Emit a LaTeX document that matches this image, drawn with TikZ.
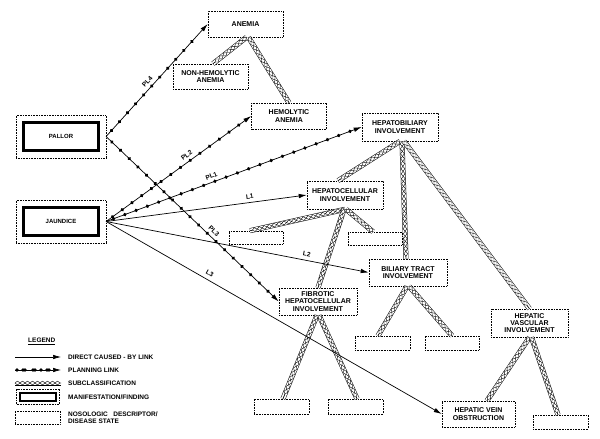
\documentclass[tikz,border=0pt]{standalone}
\usepackage{fontspec}
\setmainfont{Liberation Sans}
\usetikzlibrary{arrows.meta,decorations.markings,decorations.pathmorphing,fit}
\newcommand\subcl[2]{\draw[subouter] #1 -- #2; \draw[subzig] #1 -- #2; \draw[subzigb] #1 -- #2;}
\begin{document}
\begin{tikzpicture}[x=1pt,y=-1pt,
  every node/.style={font=\fontsize{7}{7.4}\selectfont\bfseries, align=center},
  nbox/.style={draw, densely dotted, line width=0.6pt, minimum width=76pt, minimum height=26pt, inner sep=1pt},
  ebox/.style={nbox, minimum width=55pt, minimum height=14pt},
  mbox/.style={draw, line width=2.6pt, minimum width=75pt, minimum height=28pt, inner sep=1pt, font=\fontsize{6}{7}\selectfont\bfseries},
  mouter/.style={draw, densely dotted, line width=0.6pt, inner sep=6pt},
  direct/.style={line width=0.7pt, -{Latex[length=8pt,width=4.5pt]}},
  plan/.style={direct, postaction={decorate}, decoration={markings, mark=between positions 8pt and -12pt step 12pt with {\fill (0,0) circle (1.9pt);}}},
  lbl/.style={font=\fontsize{6.5}{7}\selectfont\bfseries, sloped, above, inner sep=3.5pt},
  subouter/.style={line width=0.5pt, double=white, double distance=4pt},
  subzig/.style={line width=0.4pt, decorate, decoration={zigzag, amplitude=1.9pt, segment length=10pt}},
  subzigb/.style={line width=0.4pt, decorate, decoration={zigzag, amplitude=-1.9pt, segment length=10pt}},
  legtext/.style={anchor=west, font=\fontsize{6.5}{7}\selectfont\bfseries, align=left, inner sep=0pt},
]
\useasboundingbox (0,0) rectangle (600,439);

% manifestation nodes
\node[mbox] (pallor) at (61,136.5) {PALLOR};
\node[mouter, fit=(pallor)] (pallorO) {};
\node[mbox] (jaundice) at (61,221.5) {JAUNDICE};
\node[mouter, fit=(jaundice)] (jaundiceO) {};

% nosologic nodes
\node[nbox, minimum width=75pt] (anemia) at (245.5,24) {ANEMIA};
\node[nbox, minimum width=75pt, minimum height=25pt] (nonhem) at (210.5,76.5) {NON-HEMOLYTIC\\ANEMIA};
\node[nbox, minimum width=75pt] (hemol) at (289,116) {HEMOLYTIC\\ANEMIA};
\node[nbox, minimum height=28pt] (hepbil) at (400,127) {HEPATOBILIARY\\INVOLVEMENT};
\node[nbox, minimum height=28pt] (hepcel) at (345,195) {HEPATOCELLULAR\\INVOLVEMENT};
\node[ebox, minimum width=54pt, minimum height=13pt] (e1) at (256,237.5) {};
\node[ebox, minimum width=54pt, minimum height=13pt] (e2) at (375,238.5) {};
\node[nbox, minimum width=78pt, minimum height=27pt] (biliary) at (408,272.5) {BILIARY TRACT\\INVOLVEMENT};
\node[nbox, minimum width=78pt, minimum height=27pt] (fibrotic) at (318,301.5) {FIBROTIC\\HEPATOCELLULAR\\INVOLVEMENT};
\node[ebox] (e3) at (382.5,343) {};
\node[ebox, minimum width=54pt] (e4) at (452,343) {};
\node[nbox, minimum width=77pt, minimum height=28pt] (hepvasc) at (529.5,323) {HEPATIC\\VASCULAR\\INVOLVEMENT};
\node[ebox, minimum height=15pt] (e5) at (281.5,406.5) {};
\node[ebox, minimum height=15pt] (e6) at (355.5,406.5) {};
\node[nbox, minimum width=73pt] (hepvein) at (478.5,414) {HEPATIC VEIN\\OBSTRUCTION};
\node[ebox] (e7) at (560.5,422) {};

% subclassification links
\subcl{([xshift=1pt]anemia.south)}{([xshift=2.5pt]nonhem.north)}
\subcl{([xshift=3pt]anemia.south)}{(hemol.north)}
\subcl{(hepbil.south)}{([xshift=-7pt]hepcel.north)}
\subcl{([xshift=2pt]hepbil.south)}{([xshift=-2pt]biliary.north)}
\subcl{([xshift=4pt]hepbil.south)}{(hepvasc.north)}
\subcl{(hepcel.south)}{([xshift=-6pt]e1.north)}
\subcl{([xshift=1pt]hepcel.south)}{([xshift=-2pt]e2.north)}
\subcl{([xshift=-1pt]hepcel.south)}{(fibrotic.north)}
\subcl{([xshift=-1pt]biliary.south)}{([xshift=-4.5pt]e3.north)}
\subcl{([xshift=1pt]biliary.south)}{(e4.north)}
\subcl{([xshift=-1pt]fibrotic.south)}{([xshift=1.5pt]e5.north)}
\subcl{([xshift=1pt]fibrotic.south)}{([xshift=1.5pt]e6.north)}
\subcl{([xshift=0pt]hepvasc.south)}{([xshift=8.5pt]hepvein.north)}
\subcl{([xshift=2pt]hepvasc.south)}{([xshift=-2.5pt]e7.north)}

% direct caused-by links
\draw[direct] (jaundiceO.east) -- node[lbl, pos=0.72] {L1} (hepcel.west);
\draw[direct] (jaundiceO.east) -- node[lbl, pos=0.76] {L2} (biliary.west);
\draw[direct] (jaundiceO.east) -- node[lbl, pos=0.3] {L3} (hepvein.west);

% planning links
\draw[plan] (pallorO.east) -- node[lbl, pos=0.45] {PL4} (anemia.west);
\draw[plan] (jaundiceO.east) -- node[lbl, pos=0.58] {PL2} (hemol.west);
\draw[plan] (jaundiceO.east) -- node[lbl, pos=0.42] {PL1} (hepbil.west);
\draw[plan] (pallorO.east) -- node[lbl, pos=0.6] {PL3} (fibrotic.west);

% legend
\node[legtext] (leg) at (28,340) {LEGEND};
\draw[line width=1.4pt] ([yshift=-2pt]leg.south west) -- ([yshift=-2pt]leg.south east);
\coordinate (ld1) at (15,357); \coordinate (ld2) at (61,357);
\draw[direct] (ld1) -- (ld2);
\node[legtext] (t1) at (68,357) {DIRECT CAUSED - BY LINK};
\coordinate (lp1) at (15,370); \coordinate (lp2) at (61,370);
\draw[plan, decoration={markings, mark=between positions 2pt and -12pt step 8pt with {\fill (0,0) circle (1.9pt);}}] (lp1) -- (lp2);
\node[legtext] (t2) at (68,370) {PLANNING LINK};
\coordinate (ls1) at (15,383); \coordinate (ls2) at (61,383);
\subcl{(ls1)}{(ls2)}
\node[legtext] (t3) at (68,383) {SUBCLASSIFICATION};
\node[mbox, line width=2pt, minimum width=36pt, minimum height=8pt] (lgm) at (38,396.5) {};
\node[mouter, inner sep=2.5pt, fit=(lgm)] (lgmo) {};
\node[legtext] (t4) at (68,397) {MANIFESTATION/FINDING};
\node[ebox, minimum width=45pt, minimum height=13pt] (lgn) at (37.5,417.5) {};
\node[legtext] (t5) at (68,417.5) {NOSOLOGIC \ \ DESCRIPTOR/\\DISEASE STATE};
\end{tikzpicture}
\end{document}
